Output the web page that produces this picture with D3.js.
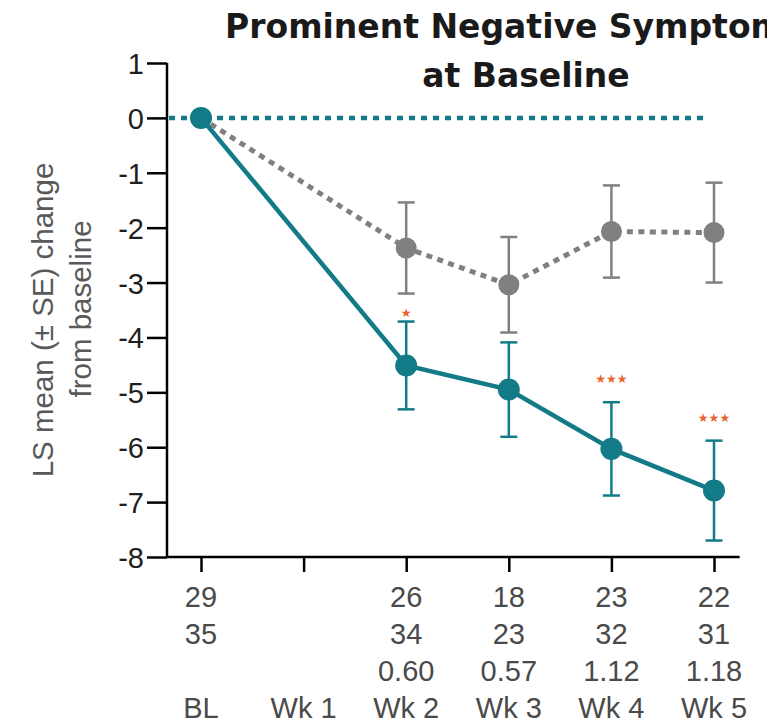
<!DOCTYPE html>
<html>
<head>
<meta charset="utf-8">
<script src="https://cdn.jsdelivr.net/npm/d3@7"></script>
<style>
  html, body { margin: 0; padding: 0; background: #ffffff; overflow: hidden; }
  svg { display: block; }
</style>
</head>
<body>
<div id="chart"></div>
<script>
// Data
const categories = ["BL", "Wk 1", "Wk 2", "Wk 3", "Wk 4", "Wk 5"];
const nActive = ["29", "", "26", "18", "23", "22"];
const nPlacebo = ["35", "", "34", "23", "32", "31"];
const effectSize = ["", "", "0.60", "0.57", "1.12", "1.18"];
const significance = ["", "", "\u2605", "", "\u2605\u2605\u2605", "\u2605\u2605\u2605"];

const visitIndex = [0, 2, 3, 4, 5];
const activeMean = [0, -4.51, -4.95, -6.03, -6.79];
const activeSE = [0, 0.8, 0.86, 0.85, 0.91];
const placeboMean = [0, -2.37, -3.04, -2.07, -2.09];
const placeboSE = [0, 0.83, 0.87, 0.84, 0.91];

const yTicks = [1, 0, -1, -2, -3, -4, -5, -6, -7, -8];

const teal = "#137b87";
const grey = "#808080";
const starColor = "#e8622a";
const labelFont = "'Liberation Sans', Arial, sans-serif";

const width = 767;
const height = 724;

const svg = d3
  .select("#chart")
  .append("svg")
  .attr("width", width)
  .attr("height", height);

const x = d3.scaleLinear().domain([0, 5]).range([201, 714]);
const y = d3.scaleLinear().domain([-8, 1]).range([557, 63]);

const axisY = 557;
const axisX = 167;

// Title (first line runs off the right edge, as in the original)
svg
  .append("text")
  .attr("x", 225)
  .attr("y", 38)
  .attr("font-family", "'DejaVu Sans', sans-serif")
  .attr("font-weight", "bold")
  .attr("font-size", "33px")
  .attr("fill", "#1a1a1a")
  .text("Prominent Negative Symptoms");

svg
  .append("text")
  .attr("x", 526)
  .attr("y", 87)
  .attr("text-anchor", "middle")
  .attr("font-family", "'DejaVu Sans', sans-serif")
  .attr("font-weight", "bold")
  .attr("font-size", "33px")
  .attr("fill", "#1a1a1a")
  .text("at Baseline");

// Y axis
const yAxis = svg
  .append("g")
  .attr("transform", `translate(${axisX},0)`)
  .call(
    d3
      .axisLeft(y)
      .tickValues(yTicks)
      .tickSize(20)
      .tickPadding(3)
      .tickFormat((d) => String(d))
  );
yAxis
  .select(".domain")
  .attr("stroke", "#000")
  .attr("stroke-width", 2.5)
  .attr("d", `M0,${y(1)}V${axisY}`);
yAxis.selectAll(".tick line").attr("stroke", "#000").attr("stroke-width", 2.5);
yAxis
  .selectAll(".tick text")
  .attr("font-family", labelFont)
  .attr("font-size", "29px")
  .attr("fill", "#1f1f1f")
  .attr("dy", "0.36em");

// Y axis label, two lines
const yLabelLines = [
  { text: "LS mean (\u00b1 SE) change", cy: 320, base: 53 },
  { text: "from baseline", cy: 309, base: 91 },
];
yLabelLines.forEach((l) => {
  svg
    .append("text")
    .attr("transform", `translate(${l.base},${l.cy}) rotate(-90)`)
    .attr("text-anchor", "middle")
    .attr("font-family", labelFont)
    .attr("font-size", "29.5px")
    .attr("fill", "#595959")
    .text(l.text);
});

// X axis
const xAxis = svg
  .append("g")
  .attr("transform", `translate(0,${axisY})`)
  .call(
    d3
      .axisBottom(x)
      .tickValues(d3.range(categories.length))
      .tickSize(15)
      .tickFormat("")
  );
xAxis
  .select(".domain")
  .attr("stroke", "#000")
  .attr("stroke-width", 2.5)
  .attr("d", `M${axisX},0H${x(5.25)}`);
xAxis.selectAll(".tick line").attr("stroke", "#000").attr("stroke-width", 2.5);

// X tick label rows: n active, n placebo, effect size, visit
const rows = [nActive, nPlacebo, effectSize, categories];
const rowY = [607, 644, 681, 718];
rows.forEach((row, r) => {
  svg
    .append("g")
    .selectAll("text")
    .data(row)
    .enter()
    .append("text")
    .attr("x", (d, i) => x(i))
    .attr("y", rowY[r])
    .attr("text-anchor", "middle")
    .attr("font-family", labelFont)
    .attr("font-size", "29px")
    .attr("fill", "#4a4a4a")
    .text((d) => d);
});

// Zero reference line
svg
  .append("line")
  .attr("x1", axisX + 2)
  .attr("x2", x(5) - 10)
  .attr("y1", y(0))
  .attr("y2", y(0))
  .attr("stroke", teal)
  .attr("stroke-width", 4.5)
  .attr("stroke-dasharray", "6 6");

function drawSeries(means, se, color, dashed, radius) {
  const pts = visitIndex.map((v, i) => ({ i: v, m: means[i], se: se[i] }));
  const g = svg.append("g");

  // error bars
  const bars = g
    .selectAll("g.err")
    .data(pts.filter((d) => d.se > 0))
    .enter()
    .append("g");
  bars
    .append("line")
    .attr("x1", (d) => x(d.i))
    .attr("x2", (d) => x(d.i))
    .attr("y1", (d) => y(d.m + d.se))
    .attr("y2", (d) => y(d.m - d.se))
    .attr("stroke", color)
    .attr("stroke-width", 2.5);
  [1, -1].forEach((s) => {
    bars
      .append("line")
      .attr("x1", (d) => x(d.i) - 8.5)
      .attr("x2", (d) => x(d.i) + 8.5)
      .attr("y1", (d) => y(d.m + s * d.se))
      .attr("y2", (d) => y(d.m + s * d.se))
      .attr("stroke", color)
      .attr("stroke-width", 2.5);
  });

  // line
  g.append("path")
    .datum(pts)
    .attr("fill", "none")
    .attr("stroke", color)
    .attr("stroke-width", dashed ? 5 : 4.5)
    .attr("stroke-dasharray", dashed ? "6 5.5" : null)
    .attr(
      "d",
      d3
        .line()
        .x((d) => x(d.i))
        .y((d) => y(d.m))
    );

  // points
  g.selectAll("circle")
    .data(pts)
    .enter()
    .append("circle")
    .attr("cx", (d) => x(d.i))
    .attr("cy", (d) => y(d.m))
    .attr("r", radius)
    .attr("fill", color);

  return pts;
}

drawSeries(placeboMean, placeboSE, grey, true, 10.5);
const activePts = drawSeries(activeMean, activeSE, teal, false, 11);

// Significance stars above the active upper error bar
svg
  .append("g")
  .selectAll("text")
  .data(activePts.filter((d) => significance[d.i] !== ""))
  .enter()
  .append("text")
  .attr("x", (d) => x(d.i))
  .attr("y", (d) => y(d.m + d.se) - (significance[d.i].length > 1 ? 19 : 5))
  .attr("text-anchor", "middle")
  .attr("font-family", "'DejaVu Sans', sans-serif")
  .attr("font-size", "12px")
  .attr("fill", starColor)
  .text((d) => significance[d.i]);
</script>
</body>
</html>
